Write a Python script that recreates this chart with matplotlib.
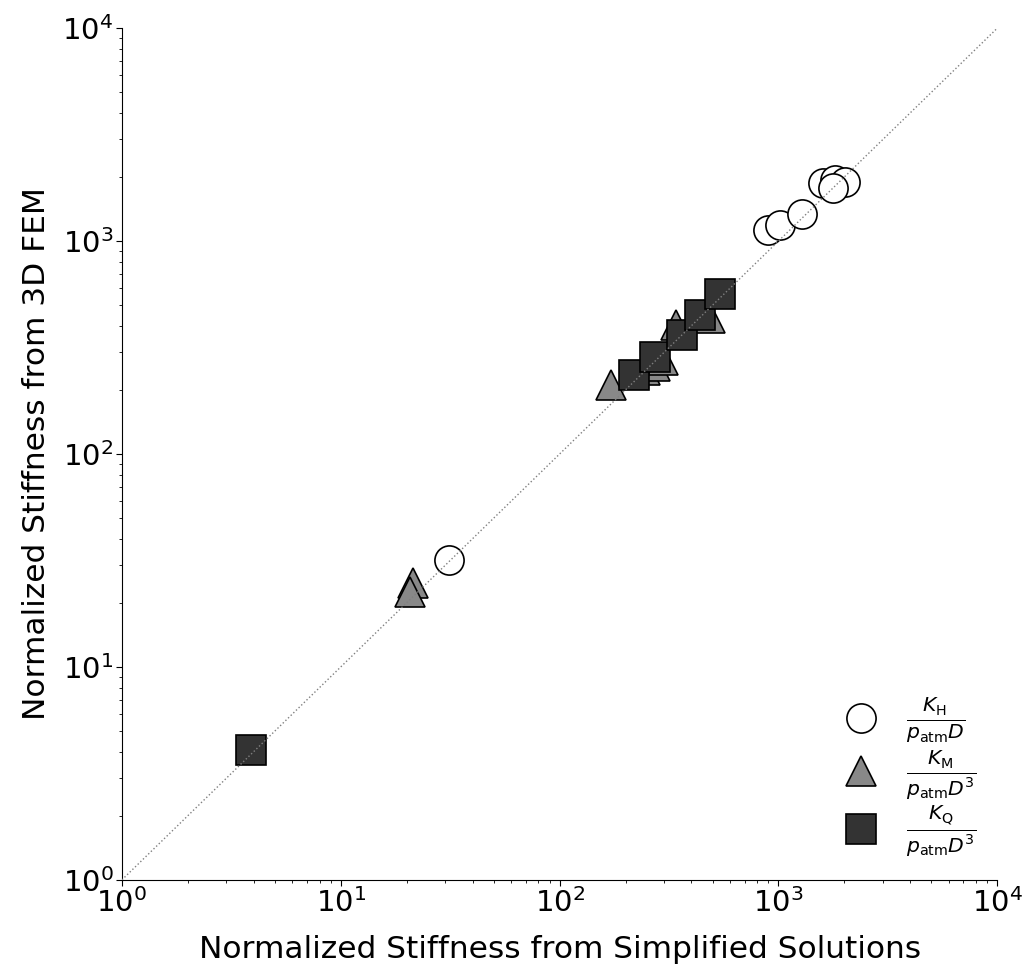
import matplotlib
matplotlib.use('Agg')
import matplotlib.pyplot as plt
from matplotlib.lines import Line2D

# normalized stiffness: simplified solutions (x) vs 3D FEM (y)
kh_simple = [31.3, 898, 1018, 1284, 1603, 1817, 2019, 1778]
kh_fem = [31.8, 1127, 1189, 1340, 1871, 1932, 1892, 1774]

km_simple = [21.4, 20.7, 172, 246, 273, 297, 341, 487]
km_fem = [24.8, 22.5, 211, 248, 259, 276, 403, 435]

kq_simple = [3.9, 219, 273, 363, 439, 542]
kq_fem = [4.08, 235, 285, 362, 449, 564]

lims = [1, 1e4]

fig, ax = plt.subplots(figsize=(10.24, 9.68), dpi=100)

ms = 21
ax.plot(kh_simple, kh_fem, 'o', ms=ms, mfc='white', mec='black', mew=1.2, ls='none')
ax.plot(km_simple, km_fem, '^', ms=ms, mfc='#888888', mec='black', mew=1.2, ls='none')
ax.plot(kq_simple, kq_fem, 's', ms=ms, mfc='#333333', mec='black', mew=1.2, ls='none')
ax.plot(lims, lims, ls=':', color='gray', lw=1, zorder=5)

ax.set_xscale('log')
ax.set_yscale('log')
ax.set_xlim(lims)
ax.set_ylim(lims)

ax.spines['top'].set_visible(False)
ax.spines['right'].set_visible(False)
ax.tick_params(which='major', labelsize=21, length=4, pad=2)
ax.tick_params(which='minor', length=2)

ax.set_xlabel('Normalized Stiffness from Simplified Solutions', fontsize=22.5, labelpad=12)
ax.set_ylabel('Normalized Stiffness from 3D FEM', fontsize=22.5, labelpad=8)

handles = [
    Line2D([], [], marker='o', ms=ms, mfc='white', mec='black', mew=1.2, ls='none'),
    Line2D([], [], marker='^', ms=ms, mfc='#888888', mec='black', mew=1.2, ls='none'),
    Line2D([], [], marker='s', ms=ms, mfc='#333333', mec='black', mew=1.2, ls='none'),
]
labels = [
    r'$\frac{K_{\mathrm{H}}}{p_{\mathrm{atm}}D}$',
    r'$\frac{K_{\mathrm{M}}}{p_{\mathrm{atm}}D^3}$',
    r'$\frac{K_{\mathrm{Q}}}{p_{\mathrm{atm}}D^3}$',
]
ax.legend(handles, labels, loc='lower right', frameon=False, fontsize=21,
          labelspacing=0.1, handletextpad=0.55, borderaxespad=0.3)

fig.subplots_adjust(left=0.119, right=0.974, top=0.971, bottom=0.091)
fig.savefig('out.png', dpi=100)
